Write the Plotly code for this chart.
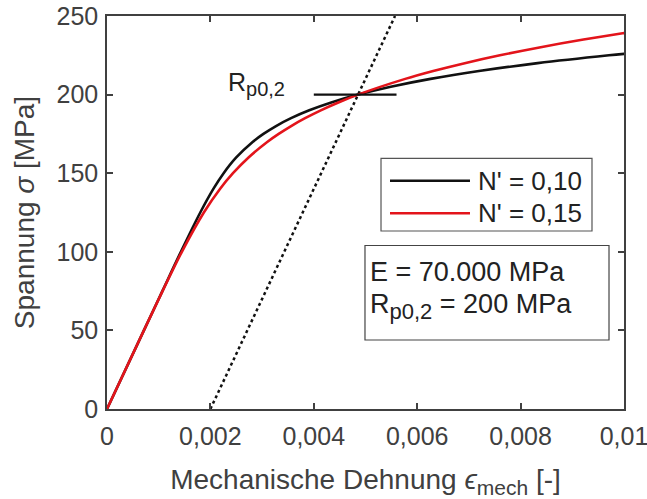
import plotly.graph_objects as go

# Curves (strain [-], stress [MPa])
eps_n010 = [0, 0.000714, 0.001071, 0.001429, 0.001804, 0.002057, 0.002256, 0.0025, 0.002822,
            0.003026, 0.003269, 0.00356, 0.003912, 0.004338, 0.004857, 0.005489, 0.006258,
            0.007194, 0.00833, 0.009709, 0.010019]
sig_n010 = [0, 50, 75, 100, 125, 140, 150, 160, 170, 175, 180, 185, 190, 195, 200, 205, 210,
            215, 220, 225, 226]

eps_n015 = [0, 0.000714, 0.001074, 0.001448, 0.001873, 0.002185, 0.002437, 0.002738, 0.003105,
            0.003321, 0.003562, 0.003832, 0.004135, 0.004475, 0.004857, 0.005769, 0.00631,
            0.006919, 0.0076, 0.008364, 0.009217, 0.009973, 0.010173]
sig_n015 = [0, 50, 75, 100, 125, 140, 150, 160, 170, 175, 180, 185, 190, 195, 200, 210, 215,
            220, 225, 230, 235, 239, 240]

# 0.2 % offset line and Rp0,2 marker
eps_offset = [0.002, 0.005571]
sig_offset = [0, 250]
eps_rp = [0.004, 0.0056]
sig_rp = [200, 200]

series_names = ["N' = 0,10", "N' = 0,15"]
series_colors = ["#111111", "#e3141b"]
x_tickvals = [0, 0.002, 0.004, 0.006, 0.008, 0.01]
x_ticktext = ["0", "0,002", "0,004", "0,006", "0,008", "0,01"]
y_tickvals = [0, 50, 100, 150, 200, 250]
y_ticktext = ["0", "50", "100", "150", "200", "250"]

FONT = "Liberation Sans, Arial, sans-serif"
AX = "#404040"
TXT = "#222222"

fig = go.Figure()
fig.add_trace(go.Scatter(x=eps_offset, y=sig_offset, mode="lines", showlegend=False,
                         line=dict(color="#111111", width=2.5, dash="dot")))
fig.add_trace(go.Scatter(x=eps_n010, y=sig_n010, mode="lines", name=series_names[0],
                         showlegend=False,
                         line=dict(color=series_colors[0], width=2.6, shape="spline")))
fig.add_trace(go.Scatter(x=eps_n015, y=sig_n015, mode="lines", name=series_names[1],
                         showlegend=False,
                         line=dict(color=series_colors[1], width=2.6, shape="spline")))
fig.add_trace(go.Scatter(x=eps_rp, y=sig_rp, mode="lines", showlegend=False,
                         line=dict(color="#111111", width=2.4)))

fig.update_layout(
    width=647, height=499,
    margin=dict(l=107, r=23, t=16, b=90),
    paper_bgcolor="white", plot_bgcolor="white",
    font=dict(family=FONT, size=26, color=AX),
    showlegend=False,
    xaxis=dict(range=[0, 0.0100001], tickvals=x_tickvals, ticktext=x_ticktext,
               showgrid=False, zeroline=False, showline=True, linecolor=AX, linewidth=1.5,
               mirror="ticks", ticks="inside", ticklen=6, tickcolor=AX, tickwidth=1.5,
               tickfont=dict(size=25, color=AX), ticklabelstandoff=4, automargin=False,
               ticklabeloverflow="allow",
               title=dict(text="Mechanische Dehnung <i>ϵ</i>"
                               '<sub><span style="font-size:21px">mech</span></sub> [-]',
                          font=dict(size=28, color=AX), standoff=21)),
    yaxis=dict(range=[0, 250], tickvals=y_tickvals, ticktext=y_ticktext,
               showgrid=False, zeroline=False, showline=True, linecolor=AX, linewidth=1.5,
               mirror="ticks", ticks="inside", ticklen=6, tickcolor=AX, tickwidth=1.5,
               tickfont=dict(size=25, color=AX), ticklabelstandoff=2, automargin=False,
               title=dict(text="Spannung <i>σ</i> [MPa]", font=dict(size=28, color=AX),
                          standoff=14)),
)

SUB_LBL = '<sub><span style="font-size:20px">p0,2</span></sub>'
SUB_BOX = '<sub><span style="font-size:22px">p0,2</span></sub>'

# R_p0,2 label next to the marker
fig.add_annotation(x=0.003475, y=207, xref="x", yref="y", xanchor="right", yanchor="middle",
                   text="R" + SUB_LBL, showarrow=False, font=dict(size=25, color=TXT))

# Legend (box, line samples, labels)
fig.add_shape(type="rect", xref="paper", yref="paper", x0=0.5300, x1=0.9381, y0=0.4529, y1=0.6379,
              line=dict(color="#555555", width=1.2), fillcolor="white", layer="above")
for nm, col, yy in zip(series_names, series_colors, [0.5809, 0.4980]):
    fig.add_shape(type="line", xref="paper", yref="paper", x0=0.5474, x1=0.7021, y0=yy, y1=yy,
                  line=dict(color=col, width=2.6), layer="above")
    fig.add_annotation(x=0.7137, y=yy, xref="paper", yref="paper", xanchor="left",
                       yanchor="middle", text=nm, showarrow=False,
                       font=dict(size=26, color=TXT))

# Material parameter box
fig.add_shape(type="rect", xref="paper", yref="paper", x0=0.4990, x1=0.9710, y0=0.1756, y1=0.4160,
              line=dict(color="#444444", width=1.2), fillcolor="white", layer="above")
fig.add_annotation(x=0.5050, y=0.3486, xref="paper", yref="paper", xanchor="left", yanchor="middle",
                   showarrow=False, text="E = 70.000 MPa", font=dict(size=27, color=TXT))
fig.add_annotation(x=0.5050, y=0.2620, xref="paper", yref="paper", xanchor="left", yanchor="middle",
                   showarrow=False, text="R" + SUB_BOX + " = 200 MPa", font=dict(size=27, color=TXT))

fig.write_html("out.html")
